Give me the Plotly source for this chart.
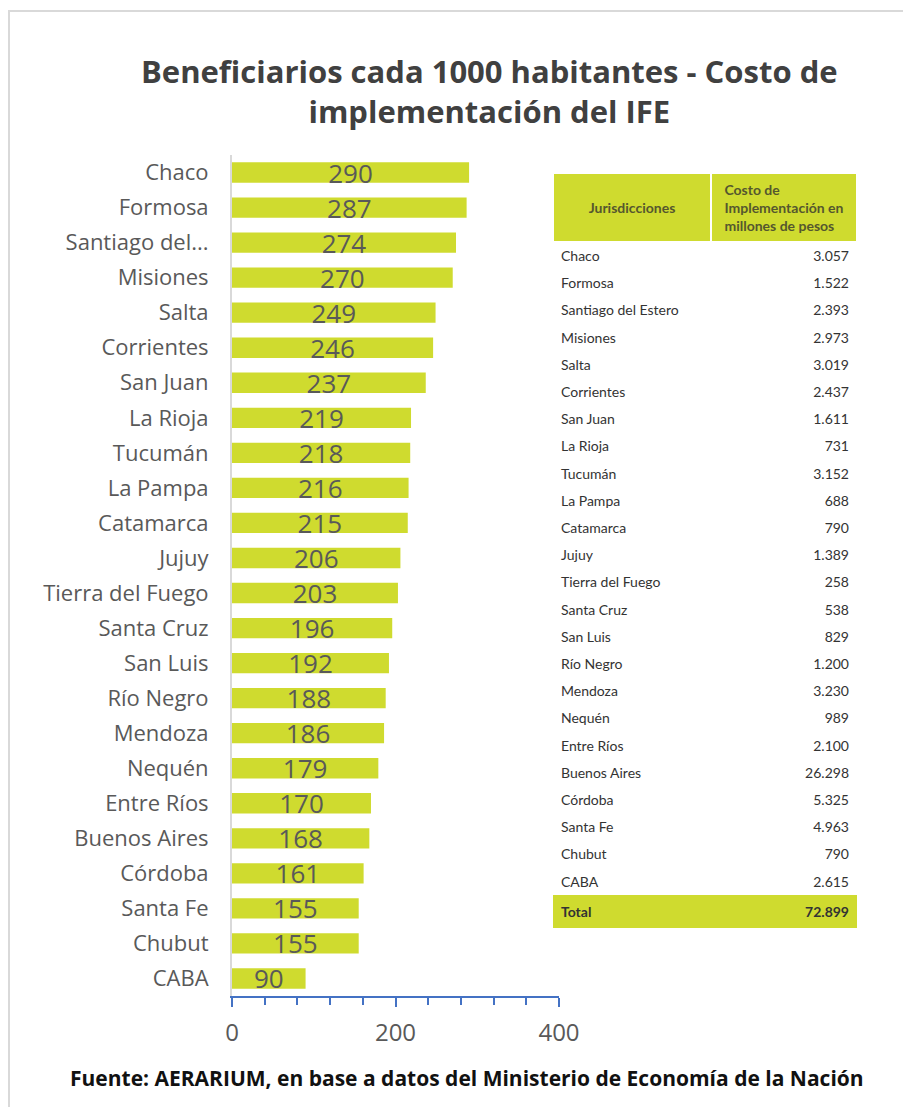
import plotly.graph_objects as go

# page body has an 8px margin: figure pixels = screen pixels - 8
OFF = 8
W, H = 911 - OFF, 1107 - OFF

provincias = ["Chaco", "Formosa", "Santiago del...", "Misiones", "Salta", "Corrientes",
              "San Juan", "La Rioja", "Tucumán", "La Pampa", "Catamarca", "Jujuy",
              "Tierra del Fuego", "Santa Cruz", "San Luis", "Río Negro", "Mendoza",
              "Nequén", "Entre Ríos", "Buenos Aires", "Córdoba", "Santa Fe", "Chubut", "CABA"]
beneficiarios = [290, 287, 274, 270, 249, 246, 237, 219, 218, 216, 215, 206, 203, 196,
                 192, 188, 186, 179, 170, 168, 161, 155, 155, 90]

jurisdicciones = ["Chaco", "Formosa", "Santiago del Estero", "Misiones", "Salta", "Corrientes",
                  "San Juan", "La Rioja", "Tucumán", "La Pampa", "Catamarca", "Jujuy",
                  "Tierra del Fuego", "Santa Cruz", "San Luis", "Río Negro", "Mendoza",
                  "Nequén", "Entre Ríos", "Buenos Aires", "Córdoba", "Santa Fe", "Chubut", "CABA"]
costos = ["3.057", "1.522", "2.393", "2.973", "3.019", "2.437", "1.611", "731", "3.152", "688",
          "790", "1.389", "258", "538", "829", "1.200", "3.230", "989", "2.100", "26.298",
          "5.325", "4.963", "790", "2.615"]
total_label = "Total"
total_costo = "72.899"

GREEN = "#CFDB2F"
GRAY = "#595959"

def px_x(p):
    return (p - OFF) / W

def px_y(p):
    return 1 - (p - OFF) / H

fig = go.Figure()

fig.add_trace(go.Bar(
    y=provincias, x=beneficiarios, orientation="h",
    marker=dict(color=GREEN, line=dict(width=0)),
    width=0.58,
    text=[str(v) for v in beneficiarios],
    textposition="inside", insidetextanchor="middle",
    constraintext="none", textangle=0,
    textfont=dict(family="Open Sans", size=26, color=GRAY),
    hoverinfo="skip",
))

n = len(jurisdicciones)
col1 = jurisdicciones + [f"<b>{total_label}</b>"]
col2 = costos + [f"<b>{total_costo}</b>"]
fills = ["white"] * n + [GREEN]

fig.add_trace(go.Table(
    domain=dict(x=[px_x(553), px_x(857)], y=[px_y(945), px_y(173)]),
    columnwidth=[158, 146],
    header=dict(
        values=["\u00a0<br><b>Jurisdicciones</b>", "<b>Costo de<br>Implementación en<br>millones de pesos</b>"],
        fill_color=GREEN, line=dict(color="white", width=2),
        align="center", height=60,
        font=dict(family="Lato", size=14, color="#55572e"),
    ),
    cells=dict(
        values=[col1, col2],
        fill_color=[fills, fills], line=dict(color="white", width=0),
        align=["left", "right"], height=27.2,
        font=dict(family="Lato", size=14, color="#333333"),
    ),
))

fig.update_layout(
    width=W, height=H, autosize=False,
    margin=dict(l=0, r=0, t=0, b=0, pad=0, autoexpand=False),
    paper_bgcolor="white", plot_bgcolor="white",
    showlegend=False,
    xaxis=dict(
        domain=[px_x(232), px_x(559)], range=[0, 400], automargin=False,
        dtick=200, tick0=0, ticks="outside", ticklen=9, tickwidth=2, tickcolor="#4472C4",
        showline=True, linecolor="#4472C4", linewidth=2,
        showgrid=False, zeroline=False,
        minor=dict(dtick=40, ticks="outside", ticklen=7, tickwidth=2, tickcolor="#4472C4", showgrid=False),
        tickfont=dict(family="Open Sans", size=24, color=GRAY),
        ticklabelstandoff=5,
    ),
    yaxis=dict(
        domain=[px_y(996), px_y(155)], automargin=False,
        autorange="reversed",
        categoryorder="array", categoryarray=provincias,
        showline=True, linecolor="#D9D9D9", linewidth=2,
        ticks="", showgrid=False, zeroline=False,
        tickfont=dict(family="Open Sans", size=22, color=GRAY),
        ticklabelstandoff=17,
    ),
    shapes=[dict(type="rect", xref="paper", yref="paper",
                 x0=px_x(9), x1=1.02, y0=-0.02, y1=px_y(11),
                 line=dict(color="#D9D9D9", width=2), fillcolor="rgba(0,0,0,0)")],
    annotations=[
        dict(text="<b>Beneficiarios cada 1000 habitantes - Costo de<br>implementación del IFE</b>",
             x=px_x(489), y=px_y(91), xref="paper", yref="paper",
             xanchor="center", yanchor="middle", showarrow=False,
             font=dict(family="Open Sans", size=31, color="#404040")),
        dict(text="<b>Fuente: AERARIUM, en base a datos del Ministerio de Economía de la Nación</b>",
             x=px_x(467), y=px_y(1078), xref="paper", yref="paper",
             xanchor="center", yanchor="middle", showarrow=False,
             font=dict(family="Open Sans", size=21, color="#111111")),
    ],
)

fig.write_html("out.html")
